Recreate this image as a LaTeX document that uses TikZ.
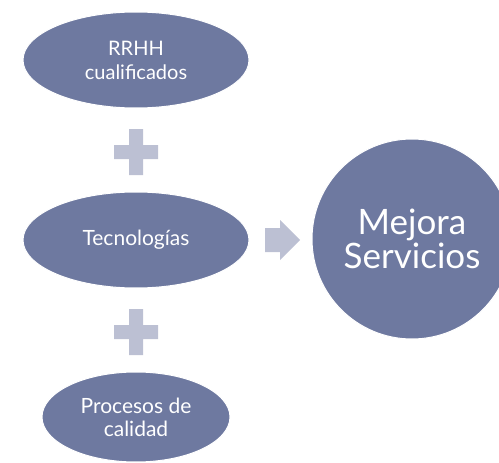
\documentclass[tikz,border=0pt]{standalone}
\usepackage{fontspec}
\setmainfont{Lato}
\usetikzlibrary{shapes.geometric}
\definecolor{ovfill}{HTML}{6E79A0}
\definecolor{plusfill}{HTML}{BCC0D3}
\tikzset{
  oval/.style={ellipse, fill=ovfill, draw=white, line width=1pt, text=white, align=center, inner sep=0pt},
  plusfill/.style={fill=plusfill, draw=none}
}
\begin{document}
\begin{tikzpicture}[x=1pt,y=-1pt]
\useasboundingbox (0,0) rectangle (499,463);
\clip (0,0) rectangle (499,463);
\node[oval, minimum width=226pt, minimum height=96pt, font=\fontsize{20}{24}\selectfont] (rrhh) at (136,60) {RRHH\\cualificados};
\node[oval, minimum width=226pt, minimum height=96pt, font=\fontsize{21}{24}\selectfont] (tec) at (136,240) {Tecnologías};
\node[oval, minimum width=188pt, minimum height=90pt, font=\fontsize{21}{23}\selectfont] (proc) at (136,417) {Procesos de\\calidad};
\node[circle, fill=ovfill, draw=white, line width=1pt, text=white, align=center, inner sep=0pt, minimum size=200pt, font=\fontsize{35}{34}\selectfont] (mej) at (412,239) {Mejora\\Servicios};
% plus signs
\coordinate (p1) at (136,152);
\coordinate (p2) at (136,332);
\foreach \p in {p1,p2}{
  \fill[plusfill] ([shift={(-7,-23)}]\p) -- ([shift={(7,-23)}]\p) -- ([shift={(7,-7)}]\p) -- ([shift={(22,-7)}]\p) -- ([shift={(22,7)}]\p) -- ([shift={(7,7)}]\p) -- ([shift={(7,23)}]\p) -- ([shift={(-7,23)}]\p) -- ([shift={(-7,7)}]\p) -- ([shift={(-22,7)}]\p) -- ([shift={(-22,-7)}]\p) -- ([shift={(-7,-7)}]\p) -- cycle;
}
% arrow
\coordinate (ar) at (265,240);
\fill[plusfill] ([shift={(0,-12)}]ar) -- ([shift={(15,-12)}]ar) -- ([shift={(15,-20)}]ar) -- ([shift={(35,0)}]ar) -- ([shift={(15,20)}]ar) -- ([shift={(15,12)}]ar) -- ([shift={(0,12)}]ar) -- cycle;
\end{tikzpicture}
\end{document}
